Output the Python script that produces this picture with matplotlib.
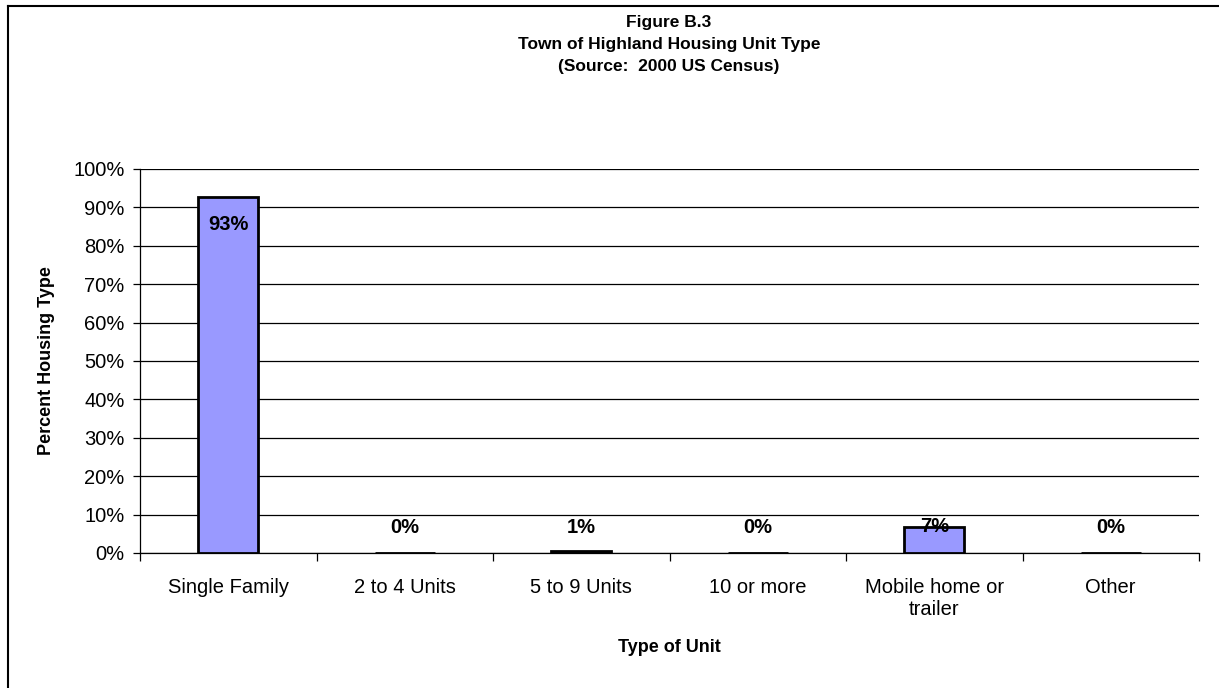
import numpy as np
import matplotlib
matplotlib.use("Agg")
import matplotlib.pyplot as plt
from matplotlib.lines import Line2D
from matplotlib.ticker import FixedLocator, PercentFormatter

categories = ["Single Family", "2 to 4 Units", "5 to 9 Units", "10 or more",
              "Mobile home or\ntrailer", "Other"]
percent = [92.6, 0.0, 0.6, 0.0, 6.8, 0.0]
labels = ["93%", "0%", "1%", "0%", "7%", "0%"]

plt.rcParams["font.family"] = ["Liberation Sans", "DejaVu Sans"]

W, H = 1219, 688
fig = plt.figure(figsize=(W / 100, H / 100), dpi=100)
ax = fig.add_axes([140 / W, 1 - 553 / H, (1199 - 140) / W, (553 - 169) / H])

x = np.arange(len(categories))
ax.bar(x, percent, width=0.34, color="#9999FF", edgecolor="black", linewidth=2, zorder=3)

# Excel-style data labels: inside the tall bar, just above the short ones
for xi, v, lab in zip(x, percent, labels):
    if v > 50:
        ax.text(xi, v - 7, lab, ha="center", va="center", fontsize=14.5, fontweight="bold", zorder=4)
    else:
        ax.text(xi, max(v, 6.6), lab, ha="center", va="center", fontsize=14.5, fontweight="bold", zorder=4)

ax.set_xlim(-0.5, len(categories) - 0.5)
ax.set_ylim(0, 100)
ax.set_yticks(np.arange(0, 101, 10))
ax.yaxis.set_major_formatter(PercentFormatter(decimals=0))
ax.yaxis.grid(True, color="black", linewidth=0.9, zorder=0)
ax.tick_params(axis="y", direction="out", length=5, width=0.9, labelsize=14.5, pad=6)

ax.xaxis.set_major_locator(FixedLocator(np.arange(-0.5, len(categories), 1.0)))
ax.xaxis.set_minor_locator(FixedLocator(x))
ax.set_xticklabels([], minor=False)
ax.set_xticklabels(categories, minor=True, fontsize=14.5, linespacing=1.2)
ax.tick_params(axis="x", which="major", direction="out", length=6, width=0.9)
ax.tick_params(axis="x", which="minor", length=0, pad=18)

for side in ["top", "right"]:
    ax.spines[side].set_visible(False)
ax.spines["left"].set_linewidth(0.9)
ax.spines["bottom"].set_linewidth(0.9)

ax.set_xlabel("Type of Unit", fontsize=13, fontweight="bold")
ax.xaxis.set_label_coords(0.5, -(648 - 553) / (553 - 169), transform=ax.transAxes)
ax.xaxis.label.set_va("center")
ax.set_ylabel("Percent Housing Type", fontsize=13, fontweight="bold")
ax.yaxis.set_label_coords(-(140 - 47) / (1199 - 140), 0.5, transform=ax.transAxes)
ax.yaxis.label.set_va("center")

fig.text(669 / W, 1 - 22 / H, "Figure B.3", ha="center", va="center", fontsize=12.5, fontweight="bold")
fig.text(669 / W, 1 - 44 / H, "Town of Highland Housing Unit Type", ha="center", va="center",
         fontsize=12.5, fontweight="bold")
fig.text(669 / W, 1 - 66 / H, "(Source:  2000 US Census)", ha="center", va="center",
         fontsize=12.5, fontweight="bold")

# outer chart border (only left and top visible)
fig.add_artist(Line2D([8 / W, 8 / W], [0, 1 - 6 / H], color="black", linewidth=1.5))
fig.add_artist(Line2D([8 / W, 1], [1 - 6 / H, 1 - 6 / H], color="black", linewidth=1.5))

fig.savefig("out.png", dpi=100)
